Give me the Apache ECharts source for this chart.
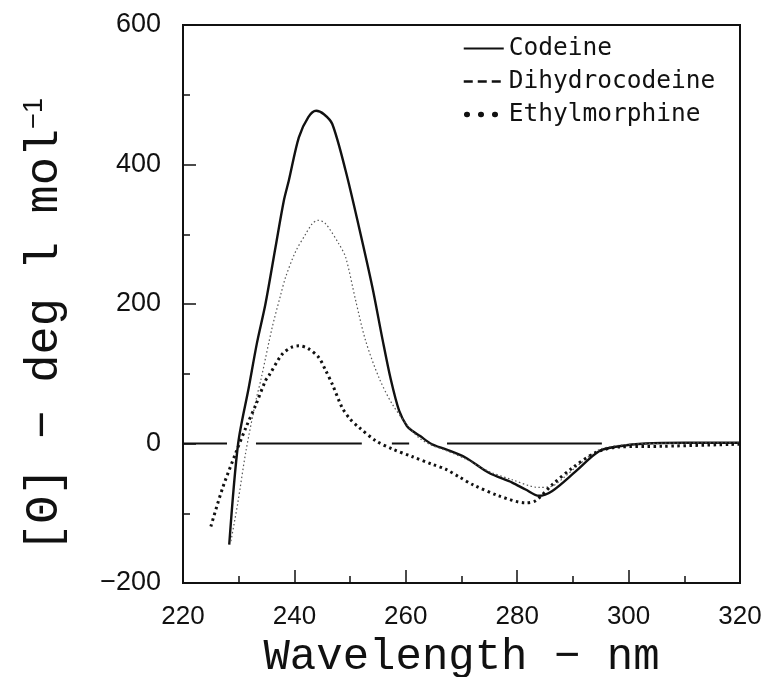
<!DOCTYPE html>
<html>
<head>
<meta charset="UTF-8">
<title>CD spectra</title>
<script src="https://cdn.jsdelivr.net/npm/echarts@6/dist/echarts.min.js"></script>
<style>
  body { margin: 0; background: #fff; }
  #chart { width: 768px; height: 677px; }
</style>
</head>
<body>
<div id="chart"></div>
<script>
// wavelength (nm), ellipticity
const codeine = [
  [228.3, -145], [229.9, 0], [231.8, 80], [233.3, 145], [234.8, 200], [236.6, 281],
  [238.1, 348], [239.0, 377], [240.8, 439], [242.5, 468], [243.9, 477], [245.3, 472],
  [246.8, 458], [249.2, 391], [251.6, 310], [254.0, 224], [255.8, 150], [257.3, 92],
  [258.8, 47], [260.2, 25], [261.2, 18], [262.5, 11], [264.7, -1], [267.1, -8],
  [270.7, -20], [274.9, -42], [279.1, -56], [281.5, -66], [283.9, -75], [286.3, -68],
  [290.5, -40], [294.7, -11], [298.3, -4], [303, 0], [310, 1], [320, 1]
];
const dihydrocodeine = [
  [228.6, -140], [229.8, -87], [231.3, -11], [233.1, 62], [234.0, 92], [236.0, 166],
  [237.5, 212], [238.4, 238], [240.2, 275], [242.0, 300], [243.2, 315], [244.2, 320],
  [245.5, 316], [248.0, 286], [249.2, 267], [251.0, 205], [252.8, 147], [255.2, 94],
  [257.6, 56], [260.6, 23], [262.4, 8], [264.5, -2], [267.2, -10], [270.7, -22],
  [274.9, -40], [279.1, -52], [283.9, -63], [286.3, -61], [288.5, -48], [291.1, -30],
  [294.7, -9], [298, -3], [303, 0], [320, 1]
];
const ethylmorphine = [
  [225.0, -119], [227.1, -64], [229.5, -13], [231.3, 23], [233.1, 56], [234.8, 90],
  [235.4, 97], [237.8, 128], [239.5, 138], [240.8, 140], [242.5, 136], [244.4, 123],
  [245.6, 105], [246.8, 85], [248.6, 51], [250.0, 35], [251.6, 23], [254.6, 4],
  [257.6, -8], [261.2, -19], [264.8, -30], [267.2, -37], [269.6, -48], [272.0, -59],
  [276.7, -75], [281.5, -85], [283.3, -82], [286.3, -59], [289.9, -35], [294.1, -13],
  [298.3, -5], [306, -4], [320, -1]
];
// broken zero reference line
const baseline = [
  [220, 0], [227.9, 0], null, [233.1, 0], [252.1, 0], null,
  [257.5, 0], [260.6, 0], null, [267.4, 0], [295.2, 0]
];
const xTicks = { min: 220, max: 320, step: 20 };
const yTicks = { min: -200, max: 600, step: 200 };

const ink = '#111';
const hideMarker = { opacity: 0 };
const chart = echarts.init(document.getElementById('chart'));

chart.setOption({
  animation: false,
  backgroundColor: '#fff',
  grid: {
    left: 183, right: 28, top: 25, bottom: 94,
    outerBoundsMode: 'none', containLabel: false,
    show: true, borderColor: ink, borderWidth: 2
  },
  legend: {
    orient: 'vertical',
    left: 456,
    top: 31,
    itemWidth: 40,
    itemHeight: 14,
    itemGap: 8,
    textStyle: { fontFamily: 'DejaVu Sans Mono', fontSize: 24.5, color: ink, lineHeight: 24 },
    data: [
      { name: 'Codeine', itemStyle: hideMarker, lineStyle: { type: 'solid', width: 2.2, color: ink } },
      { name: 'Dihydrocodeine', itemStyle: hideMarker, lineStyle: { type: [9, 5], width: 2.6, color: ink } },
      { name: 'Ethylmorphine', itemStyle: hideMarker, lineStyle: { type: [0.5, 13.5], dashOffset: -3, width: 5.5, cap: 'round', color: ink } }
    ]
  },
  xAxis: {
    type: 'value',
    min: xTicks.min, max: xTicks.max, interval: xTicks.step,
    name: 'Wavelength − nm',
    nameLocation: 'middle',
    nameGap: 36,
    nameTextStyle: { fontFamily: 'Liberation Mono', fontSize: 44, color: ink },
    axisLine: { onZero: false, lineStyle: { color: ink, width: 2 } },
    axisTick: { inside: true, length: 13, lineStyle: { color: ink, width: 1.5 } },
    minorTick: { show: true, splitNumber: 2, length: 7, lineStyle: { color: ink, width: 1.5 } },
    axisLabel: { fontFamily: 'Liberation Sans', fontSize: 26, color: ink, margin: 21 },
    splitLine: { show: false }
  },
  yAxis: {
    type: 'value',
    min: yTicks.min, max: yTicks.max, interval: yTicks.step,
    axisLine: { show: true, onZero: false, lineStyle: { color: ink, width: 2 } },
    axisTick: { show: true, inside: true, length: 13, lineStyle: { color: ink, width: 1.5 } },
    minorTick: { show: true, splitNumber: 2, length: 7, lineStyle: { color: ink, width: 1.5 } },
    axisLabel: {
      fontFamily: 'Liberation Sans', fontSize: 27, color: ink, margin: 22,
      formatter: v => (v < 0 ? '−' : '') + Math.abs(v)
    },
    splitLine: { show: false }
  },
  graphic: [{
    type: 'text',
    x: 45, y: 325,
    rotation: Math.PI / 2,
    style: {
      text: '{a|[Θ] − deg l mol}{s|−1}',
      align: 'center',
      verticalAlign: 'middle',
      fill: ink,
      rich: {
        a: { fontFamily: 'Liberation Mono', fontSize: 47, fill: ink, color: ink },
        s: { fontFamily: 'Liberation Sans', fontSize: 27, fill: ink, color: ink, verticalAlign: 'top' }
      }
    }
  }],
  series: [
    {
      name: 'zero', type: 'line', data: baseline, symbol: 'none', silent: true,
      lineStyle: { color: ink, width: 2 }, connectNulls: false
    },
    {
      name: 'Codeine', type: 'line', data: codeine, symbol: 'none', smooth: 0.3,
      itemStyle: { color: ink }, lineStyle: { color: ink, width: 2.4 }
    },
    {
      name: 'Dihydrocodeine', type: 'line', data: dihydrocodeine, symbol: 'none', smooth: 0.3,
      itemStyle: { color: ink }, lineStyle: { color: '#555', width: 1.2, type: [1.5, 2.5] }
    },
    {
      name: 'Ethylmorphine', type: 'line', data: ethylmorphine, symbol: 'none', smooth: 0.3,
      itemStyle: { color: ink }, lineStyle: { color: ink, width: 3, type: [2.5, 3.5] }
    }
  ]
});
</script>
</body>
</html>
